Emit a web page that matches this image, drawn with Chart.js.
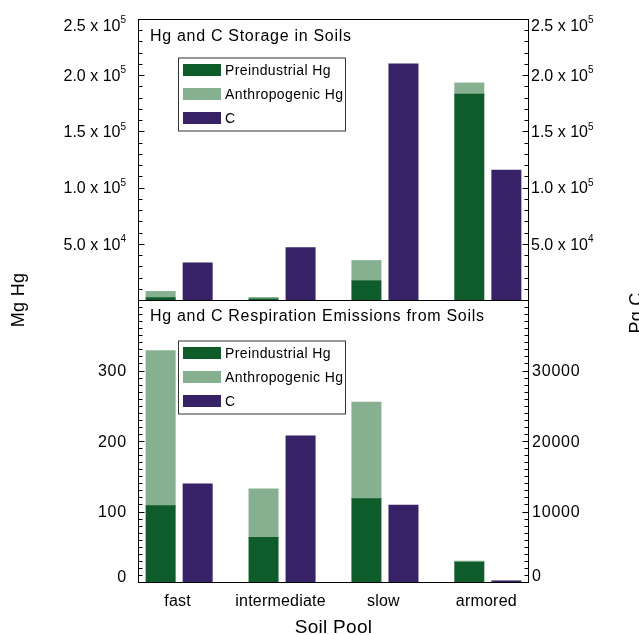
<!DOCTYPE html>
<html><head><meta charset="utf-8">
<script src="https://cdn.jsdelivr.net/npm/chart.js@4/dist/chart.umd.min.js"></script>
<style>
html,body{margin:0;padding:0;background:#fff;overflow:hidden;}
#wrap{position:relative;width:639px;height:635px;}
canvas{position:absolute;left:0;top:0;}
</style></head><body>
<div id="wrap"><canvas id="cTop" width="639" height="635"></canvas><canvas id="cBot" width="639" height="635"></canvas></div>
<script>
// ---------- data ----------
const categories = ['fast', 'intermediate', 'slow', 'armored'];
const seriesNames = ['Preindustrial Hg', 'Anthropogenic Hg', 'C'];
const storagePreindustrialHg = [2000, 800, 17000, 183000];
const storageAnthropogenicHg = [5500, 1400, 18000, 10000];
const storageC = [33000, 46500, 210000, 115500];
const emissionPreindustrialHg = [108, 63, 118, 28];
const emissionAnthropogenicHg = [220, 69, 137, 1.5];
const emissionC = [13900, 20700, 10900, 150];
const storageTickValues = [50000, 100000, 150000, 200000, 250000];
const storageTickMantissa = ['5.0', '1.0', '1.5', '2.0', '2.5'];
const storageTickExponent = ['4', '5', '5', '5', '5'];
const emissionHgTicks = [0, 100, 200, 300];
const emissionCTicks = [0, 10000, 20000, 30000];
const panelTitles = ['Hg and C Storage in Soils', 'Hg and C Respiration Emissions from Soils'];
const yTitleLeft = 'Mg Hg';
const yTitleRight = 'Pg C';
const xTitle = 'Soil Pool';

// ---------- style ----------
const COLORS = ['#0e5c29', '#86b090', '#372167'];
const FONT = '"Liberation Sans", Arial, Helvetica, sans-serif';
const HG_OFF = -0.18, C_OFF = 0.18;

function txt(ctx, s, x, y, size, align, ls) {
  ctx.font = size + 'px ' + FONT;
  try { ctx.letterSpacing = (ls || 0) + 'px'; } catch (e) {}
  ctx.textAlign = align || 'left';
  ctx.textBaseline = 'alphabetic';
  ctx.fillStyle = '#000';
  ctx.fillText(s, x, y);
  try { ctx.letterSpacing = '0px'; } catch (e) {}
}
function tw(ctx, s, size, ls) {
  ctx.font = size + 'px ' + FONT;
  try { ctx.letterSpacing = (ls || 0) + 'px'; } catch (e) {}
  const w = ctx.measureText(s).width;
  try { ctx.letterSpacing = '0px'; } catch (e) {}
  return w;
}
function drawTicks(ctx, scale, xAxis, dir, minorStep, majorStep) {
  ctx.strokeStyle = '#000'; ctx.lineWidth = 1;
  for (let v = scale.min; v <= scale.max + 1e-9; v += minorStep) {
    const y = Math.round(scale.getPixelForValue(v)) + 0.5;
    const r = v / majorStep;
    const major = Math.abs(r - Math.round(r)) < 1e-6;
    const len = major ? 6 : 4;
    ctx.beginPath(); ctx.moveTo(xAxis, y); ctx.lineTo(xAxis + dir * len, y); ctx.stroke();
  }
}
function drawFrame(ctx, a) {
  ctx.strokeStyle = '#000'; ctx.lineWidth = 1;
  ctx.strokeRect(Math.round(a.left) + 0.5, Math.round(a.top) + 0.5,
                 Math.round(a.right) - Math.round(a.left) - 1, Math.round(a.bottom) - Math.round(a.top));
}
function drawLegend(chart, box) {
  const ctx = chart.ctx;
  ctx.fillStyle = '#fff';
  ctx.fillRect(box.x, box.y, box.w, box.h);
  ctx.strokeStyle = '#333'; ctx.lineWidth = 1;
  ctx.strokeRect(box.x + 0.5, box.y + 0.5, box.w, box.h);
  chart.data.datasets.forEach((ds, i) => {
    const cy = box.y + 12 + i * 24;
    ctx.fillStyle = ds.backgroundColor;
    ctx.fillRect(box.x + 5, Math.round(cy - 6), 38, 12);
    txt(ctx, ds.label, box.x + 47, cy + 5, 14, 'left', 0.4);
  });
}
function makeDatasets(pre, anth, c) {
  return [
    { label: seriesNames[0], data: categories.map((k, i) => ({ x: i + HG_OFF, y: pre[i] })), backgroundColor: COLORS[0], yAxisID: 'yL', stack: 's' },
    { label: seriesNames[1], data: categories.map((k, i) => ({ x: i + HG_OFF, y: anth[i] })), backgroundColor: COLORS[1], yAxisID: 'yL', stack: 's' },
    { label: seriesNames[2], data: categories.map((k, i) => ({ x: i + C_OFF, y: c[i] })), backgroundColor: COLORS[2], yAxisID: 'yR', stack: 's' }
  ];
}
function baseOptions(padding, maxL, maxR) {
  return {
    responsive: false, animation: false, devicePixelRatio: 1,
    layout: { padding },
    plugins: { legend: { display: false }, tooltip: { enabled: false } },
    datasets: { bar: { barThickness: 29, borderWidth: 0, inflateAmount: 0.5 } },
    scales: {
      x: { type: 'linear', min: -0.4, max: 3.4, offset: false, display: false },
      yL: { type: 'linear', position: 'left', min: 0, max: maxL, display: false },
      yR: { type: 'linear', position: 'right', min: 0, max: maxR, display: false }
    }
  };
}

// ---------- top panel ----------
const topPlugin = {
  id: 'topDeco',
  afterDatasetsDraw(chart) {
    const ctx = chart.ctx, a = chart.chartArea;
    const yL = chart.scales.yL, yR = chart.scales.yR;
    ctx.save();
    // clean strip below plot so inflated bars don't leak
    drawFrame(ctx, a);
    drawTicks(ctx, yL, Math.round(a.left) + 0.5, 1, 10000, 50000);
    drawTicks(ctx, yR, Math.round(a.right) - 0.5, -1, 10000, 50000);
    storageTickValues.forEach((v, i) => {
      let y = yL.getPixelForValue(v);
      if (v === yL.max) y += 6;
      const base = y + 5.7;
      const m = storageTickMantissa[i] + ' x 10';
      const e = storageTickExponent[i];
      const wm = tw(ctx, m, 16, 0), we = tw(ctx, e, 10, 0);
      const xr = 126;
      txt(ctx, m, xr - we - wm, base, 16, 'left', 0);
      txt(ctx, e, xr - we, base - 7.5, 10, 'left', 0);
      const xl = 531;
      txt(ctx, m, xl, base, 16, 'left', 0);
      txt(ctx, e, xl + wm, base - 7.5, 10, 'left', 0);
    });
    txt(ctx, panelTitles[0], 150, 41, 16, 'left', 0.7);
    drawLegend(chart, { x: 178, y: 57.5, w: 167, h: 73 });
    ctx.restore();
  }
};
new Chart(document.getElementById('cTop'), {
  type: 'bar',
  data: { datasets: makeDatasets(storagePreindustrialHg, storageAnthropogenicHg, storageC) },
  options: baseOptions({ left: 138, right: 110, top: 19, bottom: 335 }, 250000, 250000),
  plugins: [topPlugin]
});

// ---------- bottom panel ----------
const botPlugin = {
  id: 'botDeco',
  afterDatasetsDraw(chart) {
    const ctx = chart.ctx, a = chart.chartArea;
    const yL = chart.scales.yL, yR = chart.scales.yR, x = chart.scales.x;
    ctx.save();
    drawFrame(ctx, a);
    drawTicks(ctx, yL, Math.round(a.left) + 0.5, 1, 10, 100);
    drawTicks(ctx, yR, Math.round(a.right) - 0.5, -1, 1000, 10000);
    emissionHgTicks.forEach(v => {
      let y = yL.getPixelForValue(v);
      if (v === yL.min) y -= 6;
      txt(ctx, String(v), 127, y + 5.7, 16, 'right', 0.8);
    });
    emissionCTicks.forEach(v => {
      let y = yR.getPixelForValue(v);
      if (v === yR.min) y -= 7;
      txt(ctx, String(v), 532, y + 5.7, 16, 'left', 0.8);
    });
    categories.forEach((c, i) => {
      txt(ctx, c, x.getPixelForValue(i) - 1.5, 606, 16, 'center', 0.2);
    });
    txt(ctx, xTitle, (a.left + a.right) / 2, 633, 19, 'center', 0.3);
    txt(ctx, panelTitles[1], 150, 321, 16, 'left', 0.7);
    // y titles
    ctx.save();
    ctx.translate(24, 300); ctx.rotate(-Math.PI / 2);
    txt(ctx, yTitleLeft, 0, 0, 18, 'center', 0.3);
    ctx.restore();
    ctx.save();
    ctx.translate(642, 313); ctx.rotate(-Math.PI / 2);
    txt(ctx, yTitleRight, 0, 0, 18, 'center', 0.3);
    ctx.restore();
    drawLegend(chart, { x: 178, y: 340.5, w: 167, h: 73 });
    ctx.restore();
  }
};
new Chart(document.getElementById('cBot'), {
  type: 'bar',
  data: { datasets: makeDatasets(emissionPreindustrialHg, emissionAnthropogenicHg, emissionC) },
  options: baseOptions({ left: 138, right: 110, top: 300, bottom: 53 }, 400, 40000),
  plugins: [botPlugin]
});
</script>
</body></html>
